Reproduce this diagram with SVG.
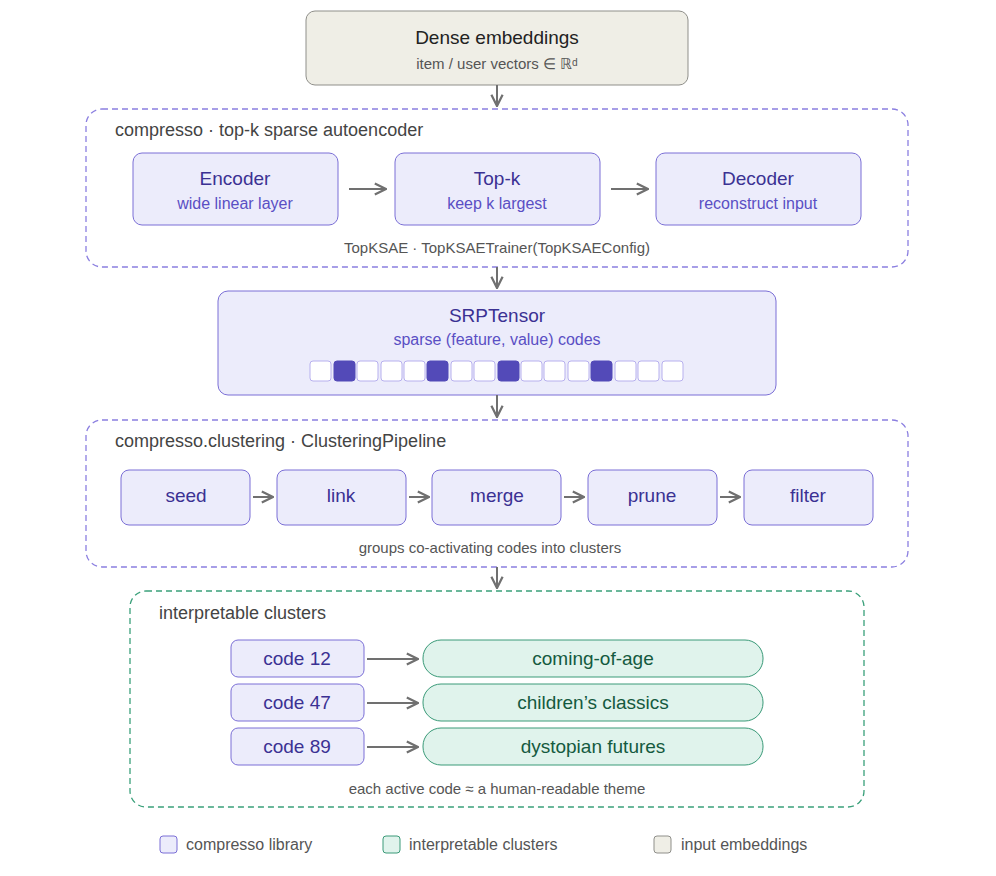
<svg xmlns="http://www.w3.org/2000/svg" width="996" height="876" viewBox="0 0 996 876">
<style>
text{font-family:"Liberation Sans",Arial,sans-serif;text-anchor:middle}
.lib{fill:#ececfb;stroke:#7b6fd6;stroke-width:1}
.grp{fill:none;stroke:#8b7fe0;stroke-width:1.3;stroke-dasharray:6 4}
.ggrp{fill:none;stroke:#3aa07a;stroke-width:1.3;stroke-dasharray:6 4}
.t{fill:#3b3193;font-size:19px}
.s{fill:#5a4fc4;font-size:16px}
.gl{fill:#444;font-size:18px;text-anchor:start}
.cap{fill:#555;font-size:15px}
.cl{fill:#e0f3ec;stroke:#3a9a78}
.ct{fill:#145a40;font-size:19px}
.e{stroke:#707070;stroke-width:2;fill:none;marker-end:url(#a)}
.sq{fill:#fff;stroke:#b7b0ee}
.sf{fill:#534ab8;stroke:#534ab8}
.lg{fill:#555;font-size:16px;text-anchor:start}
</style>
<defs><marker id="a" viewBox="0 0 10 10" refX="9" refY="5" markerWidth="7" markerHeight="7" orient="auto"><path d="M1 1L9 5L1 9" fill="none" stroke="#707070" stroke-width="1.6"/></marker></defs>
<g id="input"><rect x="306" y="11" width="382" height="74" rx="9" fill="#efeee6" stroke="#8f8f8a"/><text x="497" y="44" fill="#222" font-size="19">Dense embeddings</text><text x="497" y="69" fill="#555" font-size="15">item / user vectors ∈ ℝᵈ</text></g>
<g id="sae"><rect class="grp" x="86" y="109" width="822" height="158" rx="16"/><text class="gl" x="115" y="136">compresso · top-k sparse autoencoder</text><text class="cap" x="497" y="253">TopKSAE · TopKSAETrainer(TopKSAEConfig)</text></g>
<g id="encoder"><rect class="lib" x="133" y="153" width="205" height="72" rx="9"/><text class="t" x="235" y="185">Encoder</text><text class="s" x="235" y="209">wide linear layer</text></g>
<g id="topk"><rect class="lib" x="395" y="153" width="205" height="72" rx="9"/><text class="t" x="497" y="185">Top-k</text><text class="s" x="497" y="209">keep k largest</text></g>
<g id="decoder"><rect class="lib" x="656" y="153" width="205" height="72" rx="9"/><text class="t" x="758" y="185">Decoder</text><text class="s" x="758" y="209">reconstruct input</text></g>
<g id="srp"><rect class="lib" x="218" y="291" width="558" height="104" rx="10"/><text class="t" x="497" y="322">SRPTensor</text><text class="s" x="497" y="345">sparse (feature, value) codes</text>
<rect class="sq" x="310" y="361" width="21" height="20" rx="3"/><rect class="sf" x="334" y="361" width="21" height="20" rx="3"/><rect class="sq" x="357" y="361" width="21" height="20" rx="3"/><rect class="sq" x="381" y="361" width="21" height="20" rx="3"/><rect class="sq" x="404" y="361" width="21" height="20" rx="3"/><rect class="sf" x="427" y="361" width="21" height="20" rx="3"/><rect class="sq" x="451" y="361" width="21" height="20" rx="3"/><rect class="sq" x="474" y="361" width="21" height="20" rx="3"/><rect class="sf" x="498" y="361" width="21" height="20" rx="3"/><rect class="sq" x="521" y="361" width="21" height="20" rx="3"/><rect class="sq" x="544" y="361" width="21" height="20" rx="3"/><rect class="sq" x="568" y="361" width="21" height="20" rx="3"/><rect class="sf" x="591" y="361" width="21" height="20" rx="3"/><rect class="sq" x="615" y="361" width="21" height="20" rx="3"/><rect class="sq" x="638" y="361" width="21" height="20" rx="3"/><rect class="sq" x="662" y="361" width="21" height="20" rx="3"/></g>
<g id="clustering"><rect class="grp" x="86" y="420" width="822" height="147" rx="16"/><text class="gl" x="115" y="447">compresso.clustering · ClusteringPipeline</text><text class="cap" x="490" y="553">groups co-activating codes into clusters</text></g>
<g id="seed"><rect class="lib" x="121" y="470" width="129" height="55" rx="8"/><text class="t" x="186" y="502">seed</text></g>
<g id="link"><rect class="lib" x="277" y="470" width="129" height="55" rx="8"/><text class="t" x="341" y="502">link</text></g>
<g id="merge"><rect class="lib" x="432" y="470" width="129" height="55" rx="8"/><text class="t" x="497" y="502">merge</text></g>
<g id="prune"><rect class="lib" x="588" y="470" width="129" height="55" rx="8"/><text class="t" x="652" y="502">prune</text></g>
<g id="filter"><rect class="lib" x="744" y="470" width="129" height="55" rx="8"/><text class="t" x="808" y="502">filter</text></g>
<g id="clusters"><rect class="ggrp" x="130" y="591" width="734" height="216" rx="16"/><text class="gl" x="159" y="619">interpretable clusters</text><text class="cap" x="497" y="794">each active code ≈ a human-readable theme</text></g>
<g id="c12"><rect class="lib" x="231" y="640" width="133" height="37" rx="7"/><text class="t" x="297" y="665">code 12</text></g>
<g id="c47"><rect class="lib" x="231" y="684" width="133" height="37" rx="7"/><text class="t" x="297" y="709">code 47</text></g>
<g id="c89"><rect class="lib" x="231" y="728" width="133" height="37" rx="7"/><text class="t" x="297" y="753">code 89</text></g>
<g id="t1"><rect class="cl" x="423" y="640" width="340" height="37" rx="18"/><text class="ct" x="593" y="665">coming-of-age</text></g>
<g id="t2"><rect class="cl" x="423" y="684" width="340" height="37" rx="18"/><text class="ct" x="593" y="709">children’s classics</text></g>
<g id="t3"><rect class="cl" x="423" y="728" width="340" height="37" rx="18"/><text class="ct" x="593" y="753">dystopian futures</text></g>
<g id="connectors">
<path class="e" d="M497 85V106"/><path class="e" d="M349 189H386"/><path class="e" d="M611 189H648"/><path class="e" d="M497 267V288"/><path class="e" d="M497 395V417"/>
<path class="e" d="M253 497H273"/><path class="e" d="M409 497H429"/><path class="e" d="M564 497H584"/><path class="e" d="M720 497H740"/>
<path class="e" d="M497 567V588"/>
<path class="e" d="M367 659H418"/><path class="e" d="M367 703H418"/><path class="e" d="M367 747H418"/>
</g>
<g id="legend"><rect class="lib" x="160" y="836" width="17" height="17" rx="3"/><text class="lg" x="186" y="850">compresso library</text><rect class="cl" x="383" y="836" width="17" height="17" rx="3"/><text class="lg" x="409" y="850">interpretable clusters</text><rect x="654" y="836" width="17" height="17" rx="3" fill="#efeee6" stroke="#8f8f8a"/><text class="lg" x="681" y="850">input embeddings</text></g>
</svg>
